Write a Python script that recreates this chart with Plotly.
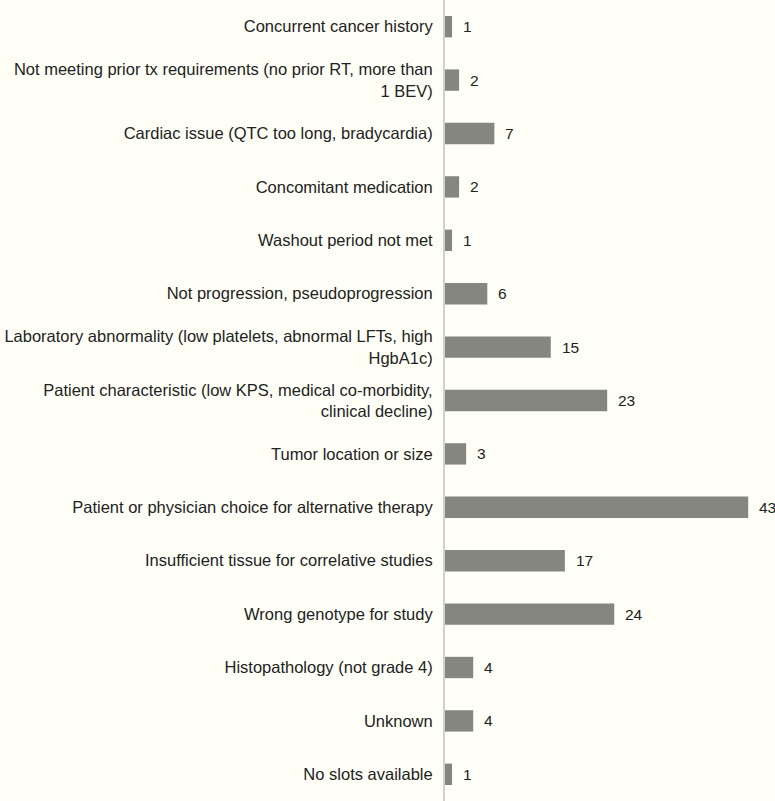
import plotly.graph_objects as go

categories = [
    "Concurrent cancer history",
    "Not meeting prior tx requirements (no prior RT, more than<br>1 BEV)",
    "Cardiac issue (QTC too long, bradycardia)",
    "Concomitant medication",
    "Washout period not met",
    "Not progression, pseudoprogression",
    "Laboratory abnormality (low platelets, abnormal LFTs, high<br>HgbA1c)",
    "Patient characteristic (low KPS, medical co-morbidity,<br>clinical decline)",
    "Tumor location or size",
    "Patient or physician choice for alternative therapy",
    "Insufficient tissue for correlative studies",
    "Wrong genotype for study",
    "Histopathology (not grade 4)",
    "Unknown",
    "No slots available",
]
values = [1, 2, 7, 2, 1, 6, 15, 23, 3, 43, 17, 24, 4, 4, 1]

fig = go.Figure()
fig.add_trace(go.Bar(
    x=values, y=categories, orientation="h",
    marker=dict(color="#868680", line=dict(width=0)),
    hoverinfo="skip",
))
for c, v in zip(categories, values):
    fig.add_annotation(x=v, y=c, text=str(v), showarrow=False,
                       xanchor="left", xshift=9,
                       font=dict(family="Liberation Sans", size=15.5, color="#222222"))

fig.update_layout(
    width=775, height=801,
    margin=dict(l=445, r=0, t=0, b=0, pad=0),
    paper_bgcolor="#fffff8", plot_bgcolor="#fffff8",
    bargap=0.6, showlegend=False,
    font=dict(family="Liberation Sans", size=16.5, color="#222222"),
)
fig.update_xaxes(range=[0, 46.8], visible=False, showgrid=False, zeroline=False)
fig.update_yaxes(autorange="reversed", showline=True, linecolor="#d0d0d0", linewidth=2,
                 showgrid=False, ticks="", ticklabelstandoff=7, automargin=False,
                 tickfont=dict(family="Liberation Sans", size=16.5, color="#222222"))

fig.write_html("out.html", config={"displayModeBar": False},
               post_script="document.body.style.margin='0';document.body.style.background='#fffff8';")
